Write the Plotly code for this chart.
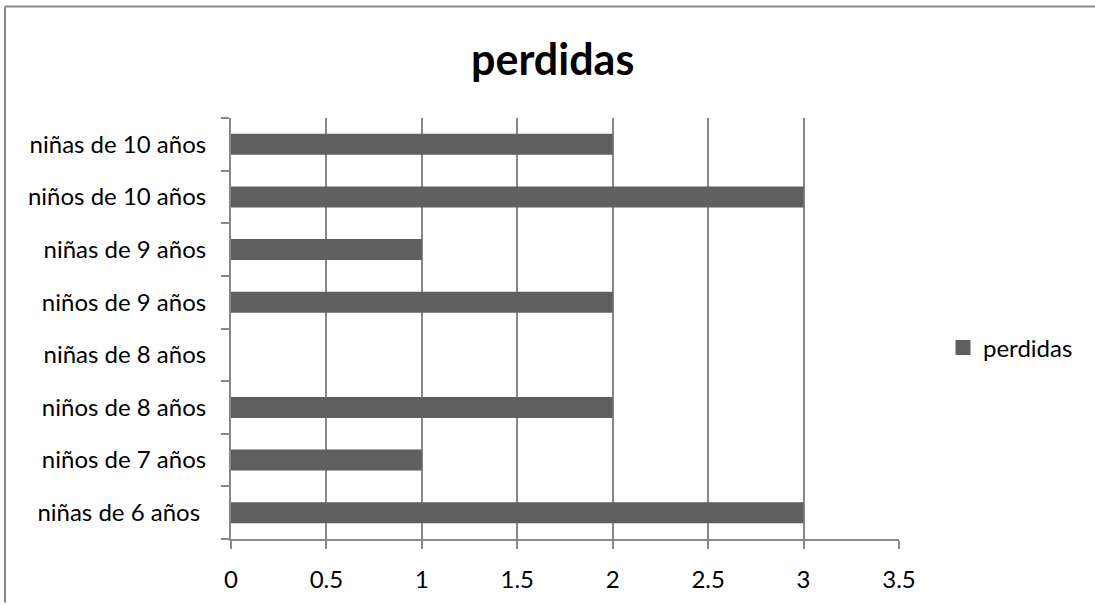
import plotly.graph_objects as go

# Categories listed bottom to top, as they appear on the vertical axis
categories = [
    "niñas de 6 años\u00a0",
    "niños de 7 años",
    "niños de 8 años",
    "niñas de 8 años",
    "niños de 9 años",
    "niñas de 9 años",
    "niños de 10 años",
    "niñas de 10 años",
]
perdidas = [3, 1, 2, 0, 2, 1, 3, 2]
x_ticks = [0, 0.5, 1, 1.5, 2, 2.5, 3, 3.5]
x_tick_labels = ["0", "0.5", "1", "1.5", "2", "2.5", "3", "3.5"]

FONT = "Lato, Calibri, sans-serif"
GRAY = "#888888"
BAR = "#5f5f5f"

W, H = 1095, 605
L, R, T, B = 231, 196, 118, 64
pw, ph = W - L - R, H - T - B

fig = go.Figure()
fig.add_trace(go.Bar(
    x=perdidas,
    y=categories,
    orientation="h",
    name="perdidas",
    marker=dict(color=BAR, line=dict(width=0)),
    width=0.4,
    showlegend=False,
))
# Legend entry with a larger square swatch
fig.add_trace(go.Scatter(
    x=[None], y=[None],
    mode="markers",
    name="perdidas",
    marker=dict(symbol="square", size=15, color=BAR, line=dict(width=0)),
    showlegend=True,
))

fig.update_layout(
    width=W, height=H, autosize=False,
    margin=dict(l=L, r=R, t=T, b=B, pad=0),
    paper_bgcolor="white", plot_bgcolor="white",
    font=dict(family=FONT, size=24, color="#000000"),
    showlegend=True,
    legend=dict(
        x=(943 - L) / pw, y=(541 - 349) / ph,
        xanchor="left", yanchor="middle",
        font=dict(family=FONT, size=24, color="#000000"),
        itemwidth=30, tracegroupgap=0,
    ),
    bargap=0.6,
)

fig.update_xaxes(
    range=[0, 3.5],
    tickvals=x_ticks, ticktext=x_tick_labels,
    showgrid=True, gridcolor=GRAY, gridwidth=1.5,
    showline=True, linecolor=GRAY, linewidth=2,
    ticks="outside", ticklen=8, tickcolor=GRAY, tickwidth=1.5,
    ticklabelstandoff=10,
    zeroline=False,
    tickfont=dict(family=FONT, size=24, color="#000000"),
    fixedrange=True,
)
fig.update_yaxes(
    type="category",
    categoryorder="array", categoryarray=categories,
    range=[-0.5, len(categories) - 0.5],
    showgrid=False,
    showline=True, linecolor=GRAY, linewidth=2,
    ticks="outside", ticklen=8, tickcolor=GRAY, tickwidth=1.5,
    tickson="boundaries",
    ticklabelstandoff=18,
    tickfont=dict(family=FONT, size=24, color="#000000"),
    fixedrange=True,
)

# Title
fig.add_annotation(
    text="<b>perdidas</b>",
    xref="paper", yref="paper",
    x=(552 - L) / pw, y=(541 - 58) / ph,
    xanchor="center", yanchor="middle",
    showarrow=False,
    font=dict(family=FONT, size=43, color="#000000"),
)

# Chart frame: left and top edges, running to the page edges
frame_left, frame_top = (5 - L) / pw, (541 - 6) / ph
fig.add_shape(
    type="line", xref="paper", yref="paper",
    x0=frame_left, x1=frame_left, y0=(541 - H) / ph, y1=frame_top,
    line=dict(color=GRAY, width=2), layer="below",
)
fig.add_shape(
    type="line", xref="paper", yref="paper",
    x0=frame_left, x1=(W - L) / pw, y0=frame_top, y1=frame_top,
    line=dict(color=GRAY, width=2), layer="below",
)

fig.write_html("out.html", config={"displayModeBar": False})
